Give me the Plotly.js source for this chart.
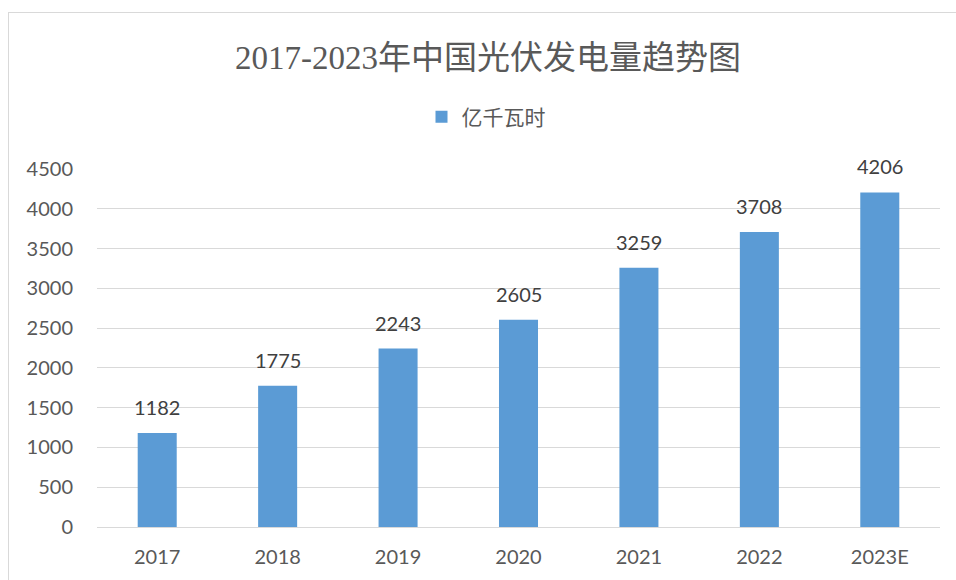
<!DOCTYPE html>
<html>
<head>
<meta charset="utf-8">
<script src="https://cdn.plot.ly/plotly-3.0.1.min.js"></script>
<style>
html,body{margin:0;padding:0;background:#fff;}
#wrap{position:relative;width:956px;height:580px;}
#chart{width:956px;height:580px;}
#frame{position:absolute;left:8px;top:12px;right:-2px;bottom:-2px;border-left:1px solid #d9d9d9;border-top:1px solid #d9d9d9;pointer-events:none;}
</style>
</head>
<body>
<div id="wrap"><div id="chart"></div><div id="frame"></div></div>
<script>
const categories = ['2017','2018','2019','2020','2021','2022','2023E'];
const values = [1182, 1775, 2243, 2605, 3259, 3708, 4206];
const seriesName = '亿千瓦时';
const yTicks = [0,500,1000,1500,2000,2500,3000,3500,4000,4500];
const titleText = '2017-2023年中国光伏发电量趋势图';

const trace = {
  type: 'bar',
  x: categories,
  y: values,
  name: seriesName,
  marker: {color: '#5B9BD5'},
  hoverinfo: 'x+y'
};

const annotations = categories.map((c, i) => ({
  x: i, y: values[i], xref: 'x', yref: 'y',
  text: String(values[i]),
  showarrow: false,
  yanchor: 'bottom',
  yshift: 12,
  font: {family: 'Lato, Liberation Sans, sans-serif', size: 20, color: '#404040'}
}));

const layout = {
  width: 956, height: 580,
  paper_bgcolor: '#ffffff', plot_bgcolor: '#ffffff',
  margin: {l: 97, r: 16, t: 169, b: 53},
  title: {
    text: titleText,
    x: 488/956, xref: 'container', xanchor: 'center',
    y: 1 - 57/580, yref: 'container', yanchor: 'middle',
    font: {family: 'Liberation Serif, Noto Sans CJK SC, serif', size: 33, color: '#595959'}
  },
  showlegend: true,
  legend: {
    orientation: 'h',
    x: 486/956, xref: 'container', xanchor: 'center',
    y: 1 - 117/580, yref: 'container', yanchor: 'middle',
    font: {family: 'Noto Sans CJK SC, sans-serif', size: 21, color: '#595959'},
    bgcolor: 'rgba(0,0,0,0)'
  },
  bargap: 0.676,
  xaxis: {
    type: 'category',
    range: [-0.5, categories.length - 0.5],
    showgrid: false,
    showline: false,
    ticks: '',
    tickfont: {family: 'Lato, Liberation Sans, sans-serif', size: 20, color: '#595959'},
    ticklabelstandoff: 16
  },
  yaxis: {
    range: [0, 4500],
    tickvals: yTicks,
    ticktext: yTicks.map(String),
    showgrid: true,
    gridcolor: '#d9d9d9',
    gridwidth: 1,
    zeroline: true,
    zerolinecolor: '#d9d9d9',
    zerolinewidth: 1,
    showline: false,
    ticks: '',
    tickfont: {family: 'Lato, Liberation Sans, sans-serif', size: 20, color: '#595959'},
    ticklabelstandoff: 23
  },
  annotations: annotations
};

Plotly.newPlot('chart', [trace], layout, {displayModeBar: false, staticPlot: true});
</script>
</body>
</html>
